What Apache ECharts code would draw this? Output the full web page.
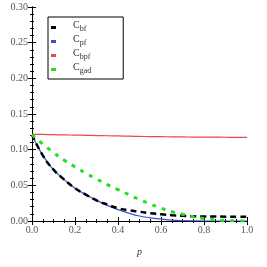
<!DOCTYPE html>
<html><head><meta charset="utf-8">
<script src="https://cdn.jsdelivr.net/npm/echarts@6/dist/echarts.min.js"></script>
<style>html,body{margin:0;padding:0;background:#fff}#c{width:267px;height:267px}</style>
</head><body><div id="c"></div>
<script>
const pValues = [0,0.05,0.1,0.15,0.2,0.25,0.3,0.35,0.4,0.45,0.5,0.55,0.6,0.65,0.7,0.75,0.8,0.85,0.9,0.95,1.0];
const cBf  = [0.121,0.092,0.072,0.058,0.046,0.037,0.029,0.023,0.018,0.015,0.013,0.011,0.0095,0.0082,0.0073,0.0067,0.0064,0.0062,0.0061,0.006,0.006];
const cPf  = [0.121,0.092,0.072,0.058,0.046,0.037,0.029,0.022,0.016,0.011,0.007,0.0045,0.0025,0.0012,0.0005,0.0002,0,0,0,0,0];
const cBpf = [0.1215,0.1213,0.1210,0.1207,0.1204,0.1201,0.1198,0.1195,0.1192,0.1189,0.1186,0.1184,0.1182,0.1180,0.1178,0.1177,0.1176,0.1175,0.1174,0.1173,0.1172];
const cGad = [0.121,0.108,0.096,0.085,0.076,0.067,0.059,0.051,0.044,0.037,0.030,0.024,0.018,0.013,0.0095,0.006,0.0035,0.0018,0.0007,0.0002,0];
const seriesNames = ['C_bf','C_pf','C_bpf','C_gad'];
const xTicks = [0,0.2,0.4,0.6,0.8,1.0];
const yTicks = [0,0.05,0.1,0.15,0.2,0.25,0.3];

const pair = arr => pValues.map((p,i)=>[p,arr[i]]);
const font = '"Liberation Serif","DejaVu Serif",serif';
const frameAxis = (extra) => Object.assign({
  type:'value', axisLine:{show:true,lineStyle:{color:'#000',width:1}},
  axisTick:{show:true,inside:true,length:4,lineStyle:{color:'#000'}},
  minorTick:{show:true,length:2,lineStyle:{color:'#000'}},
  splitLine:{show:false}, axisLabel:{show:false}
}, extra);
const colors = ['#000','#3a4fd8','#e8494a','#22e022'];

const chart = echarts.init(document.getElementById('c'), null, {renderer:'canvas'});
chart.setOption({
  animation:false,
  backgroundColor:'#fff',
  grid:{left:32,top:7,right:20,bottom:46,containLabel:false,outerBoundsMode:'none'},
  xAxis:[
    frameAxis({min:0,max:1,interval:0.2,position:'bottom',
      minorTick:{show:true,splitNumber:4,length:2,lineStyle:{color:'#000'}},
      axisLabel:{show:true,color:'#555',fontFamily:font,fontSize:10,margin:4,formatter:v=>v.toFixed(1)},
      name:'p',nameLocation:'middle',nameGap:26,nameTextStyle:{fontFamily:font,fontSize:10,color:'#333',fontStyle:'italic'}}),
    frameAxis({min:0,max:1,interval:0.2,position:'top',
      minorTick:{show:true,splitNumber:4,length:2,lineStyle:{color:'#000'}}})
  ],
  yAxis:[
    frameAxis({min:0,max:0.3,interval:0.05,position:'left',
      minorTick:{show:true,splitNumber:5,length:2,lineStyle:{color:'#000'}},
      axisLabel:{show:true,color:'#555',fontFamily:font,fontSize:10,margin:4,formatter:v=>v.toFixed(2)},
      name:'Coherence',nameLocation:'middle',nameGap:25,nameTextStyle:{fontFamily:font,fontSize:9,color:'#333'}}),
    frameAxis({min:0,max:0.3,interval:0.05,position:'right',
      minorTick:{show:true,splitNumber:5,length:2,lineStyle:{color:'#000'}}})
  ],
  legend:{
    orient:'vertical',left:48,top:17,
    borderColor:'#000',borderWidth:1,padding:[3,32,4,3],
    itemWidth:5,itemHeight:3,itemGap:1,
    formatter:n=>{const s=n.split('_');return '{c|'+s[0]+'}{s|'+s[1]+'}';},
    textStyle:{rich:{
      c:{fontFamily:font,fontSize:10,color:'#333',padding:[0,0,3,12],lineHeight:11,verticalAlign:'bottom'},
      s:{fontFamily:font,fontSize:8,color:'#333',lineHeight:9,verticalAlign:'bottom'}
    }},
    data:seriesNames.map((n,i)=>({name:n,icon:'rect',itemStyle:{color:colors[i],borderWidth:0},lineStyle:{opacity:0}}))
  },
  series:[
    {name:seriesNames[0],type:'line',data:pair(cBf),smooth:true,showSymbol:false,z:4,
     lineStyle:{color:colors[0],width:2.5,type:[6,4]},itemStyle:{color:colors[0]}},
    {name:seriesNames[1],type:'line',data:pair(cPf),smooth:true,showSymbol:false,z:3,
     lineStyle:{color:colors[1],width:1.2},itemStyle:{color:colors[1]}},
    {name:seriesNames[2],type:'line',data:pair(cBpf),smooth:true,showSymbol:false,z:3,
     lineStyle:{color:colors[2],width:1.2},itemStyle:{color:colors[2]}},
    {name:seriesNames[3],type:'line',data:pair(cGad),smooth:true,showSymbol:false,z:5,
     lineStyle:{color:colors[3],width:3,type:[4,6]},itemStyle:{color:colors[3]}}
  ]
});
</script></body></html>
